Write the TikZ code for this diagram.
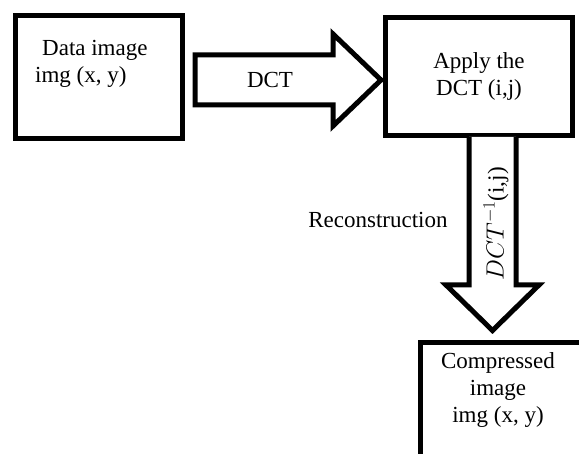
\documentclass[tikz,border=0pt]{standalone}
\usepackage{fontspec}
\setmainfont{Liberation Serif}
\usetikzlibrary{calc}
\begin{document}
\begin{tikzpicture}[x=1pt,y=-1pt,
  box/.style={draw, line width=5pt, inner sep=0pt, outer sep=0pt},
  lbl/.style={font=\fontsize{23}{27}\selectfont, inner sep=0pt, align=center},
  blockarrow/.style={draw, line width=5pt, line join=miter, miter limit=10, fill=white}]
\useasboundingbox (0,0) rectangle (579,454);
\fill[white] (0,0) rectangle (579,454);
\clip (0,0) rectangle (579,454);
% boxes
\node[box, minimum width=167pt, minimum height=123pt] (b1) at (98.5,77.5) {};
\node[box, minimum width=187pt, minimum height=118pt, lbl] (b2) at (479,76.5) {Apply the\\DCT (i,j)};
\node[box, minimum width=219pt, minimum height=157pt] (b3) at (530,421) {};
% texts
\node[lbl, align=left, anchor=west] (t1) at (35,64) {\hspace*{7pt}Data image\\img (x, y)};
\node[lbl] (t3) at (498,390) {Compressed\\image\\img (x, y)};
% DCT arrow
\coordinate (a1tip) at ($(b2.west)+(-4.5,3.5)$);
\draw[blockarrow] ($(b1.east)+(13,-22.5)$) -- (333,55) -- (333,34) -- (a1tip) -- (333,126) -- (333,105) -- ($(b1.east)+(13,27.5)$) -- cycle;
\node[lbl] (dct) at (270,80) {DCT};
% inverse DCT arrow
\coordinate (a2tip) at ($(b2.south)+(13.5,195)$);
\draw[blockarrow] (469,137) -- (469,285) -- (446,285) -- (a2tip) -- (539,285) -- (516,285) -- (516,137);
\node[lbl, rotate=90] (inv) at (496,224) {$DCT^{-1}$(i,j)};
\node[lbl] (rec) at (378,220) {Reconstruction};
\end{tikzpicture}
\end{document}
